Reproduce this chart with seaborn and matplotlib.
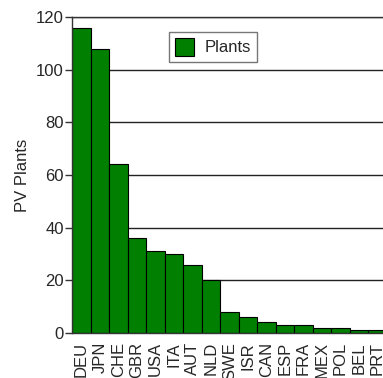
import matplotlib
matplotlib.use("Agg")
import matplotlib.pyplot as plt
import seaborn as sns
import pandas as pd

countries = ["DEU", "JPN", "CHE", "GBR", "USA", "ITA", "AUT", "NLD", "SWE",
             "ISR", "CAN", "ESP", "FRA", "MEX", "POL", "BEL", "PRT"]
plants = [116, 108, 64, 36, 31, 30, 26, 20, 8, 6, 4, 3, 3, 2, 2, 1, 1]
yticks = [0, 20, 40, 60, 80, 100, 120]

sns.set_style("white")
plt.rcParams['font.family'] = ['Liberation Sans', 'DejaVu Sans']

df = pd.DataFrame({"country": countries, "plants": plants})

fig = plt.figure(figsize=(3.83, 3.78), dpi=100)
ax = fig.add_axes([0.188, 0.119, 0.822, 0.836])

sns.barplot(data=df, x="country", y="plants", color="#007f00", saturation=1,
            width=1.0, edgecolor="black", linewidth=0.8, label="Plants", ax=ax)

ax.set_xlim(-0.5, len(countries) - 0.5)
ax.set_ylim(0, 120)
ax.set_yticks(yticks)
ax.yaxis.grid(True, color="#222222", linewidth=1)
ax.set_axisbelow(True)

for side in ["left", "bottom", "top"]:
    ax.spines[side].set_visible(True)
    ax.spines[side].set_color("#333333")
    ax.spines[side].set_linewidth(1)
ax.spines["right"].set_visible(False)

ax.tick_params(axis="y", left=True, length=5, width=1, color="#333333",
               labelsize=12, pad=1)
ax.tick_params(axis="x", bottom=False, labelsize=12, pad=3)
plt.setp(ax.get_xticklabels(), rotation=90)

ax.set_xlabel("")
ax.set_ylabel("PV Plants", fontsize=12, labelpad=4)

leg = ax.legend(loc="upper left", bbox_to_anchor=(0.308, 0.953), fontsize=12,
                borderaxespad=0, frameon=True, fancybox=False,
                edgecolor="#555555", borderpad=0.35, handlelength=1.15,
                handleheight=1.3, handletextpad=0.65)
leg.get_frame().set_linewidth(1)

fig.savefig("out.png", dpi=100)
